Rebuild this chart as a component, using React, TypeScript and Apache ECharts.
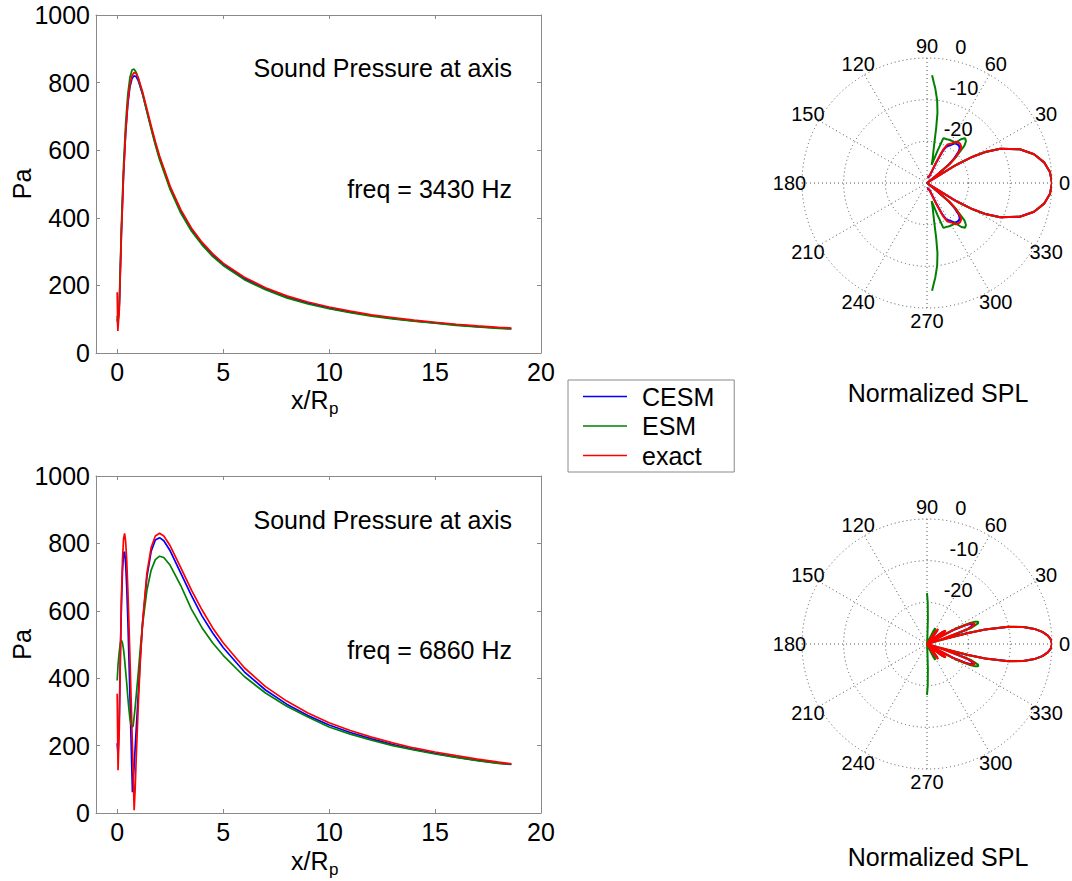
import React, { useEffect, useRef } from 'react';
import * as echarts from 'echarts';

const FONT = "'Liberation Sans', Arial, Helvetica, sans-serif";
const BLUE = '#0000ff';
const GREEN = '#008000';
const RED = '#ff0000';
const BOX = '#8a8a8a';
const GRIDC = '#555555';
const FS = 25;
const PFS = 20;

// ---------- Sound pressure at axis, freq = 3430 Hz ----------
const x3430 = [0, 0.03, 0.1, 0.2, 0.3, 0.4, 0.5, 0.6, 0.7, 0.8, 0.9, 1.0, 1.2, 1.4, 1.6, 1.8, 2.0, 2.5, 3, 3.5, 4, 4.5, 5, 6, 7, 8, 9, 10, 11, 12, 13, 14, 15, 16, 17, 18, 18.6];
const cesm3430 = [100, 90, 140, 360, 530, 650, 735, 787, 812, 820, 817, 805, 765, 716, 667, 620, 578, 489, 420, 366, 324, 290, 262, 220, 190, 166, 148, 133, 121, 111, 102, 95, 89, 83, 78, 74, 72];
const esm3430 = [110, 80, 150, 380, 555, 680, 765, 815, 837, 840, 830, 812, 766, 714, 663, 615, 572, 483, 414, 361, 320, 286, 259, 217, 187, 163, 145, 131, 119, 109, 101, 94, 88, 82, 77, 73, 71];
const exact3430 = [180, 65, 128, 351, 526, 654, 741, 794, 821, 830, 826, 813, 772, 723, 673, 626, 583, 493, 424, 370, 328, 294, 266, 224, 193, 169, 151, 136, 124, 113, 105, 97, 91, 85, 80, 76, 74];

// ---------- Sound pressure at axis, freq = 6860 Hz ----------
const x6860 = [0, 0.04, 0.1, 0.15, 0.2, 0.25, 0.3, 0.35, 0.4, 0.45, 0.5, 0.55, 0.6, 0.65, 0.7, 0.72, 0.75, 0.8, 0.85, 0.9, 1.0, 1.1, 1.2, 1.4, 1.6, 1.8, 2.0, 2.2, 2.5, 3, 3.5, 4, 4.5, 5, 6, 7, 8, 9, 10, 11, 12, 13, 14, 15, 16, 17, 18, 18.6];
const cesm6860 = [207, 170, 290, 470, 620, 720, 770, 775, 740, 670, 580, 470, 350, 230, 110, 62, 90, 140, 195, 250, 360, 470, 565, 700, 776, 810, 817, 808, 778, 712, 646, 585, 535, 491, 419, 365, 323, 289, 261, 239, 220, 203, 189, 177, 166, 156, 148, 144];
const esm6860 = [393, 440, 480, 505, 512, 505, 485, 455, 420, 385, 345, 310, 280, 262, 255, 254, 258, 285, 315, 350, 420, 495, 560, 660, 720, 752, 762, 758, 735, 675, 605, 550, 505, 468, 405, 356, 317, 285, 255, 234, 216, 200, 187, 175, 165, 155, 147, 145];
const exact6860 = [354, 127, 253, 468, 636, 751, 814, 830, 805, 749, 669, 572, 465, 354, 241, 195, 131, 8, 74, 167, 329, 462, 567, 710, 787, 822, 830, 822, 793, 728, 662, 603, 550, 505, 431, 375, 332, 297, 268, 245, 225, 208, 193, 181, 170, 160, 151, 146];

// ---------- Normalized SPL (dB), half-plane angles (mirrored about 0 deg) ----------
const ang3430 = [0, 5, 10, 15, 20, 25, 28, 30, 32, 34, 35, 36, 38, 40, 42, 45, 47, 49.5, 52, 55, 58, 62, 64, 66, 68, 70, 72, 74, 75.5, 77, 79, 80, 80.5, 81.5, 83, 85, 86, 87.3, 90];
const cesmSpl3430 = [0, -0.36, -1.47, -3.4, -6.3, -10.6, -14.3, -17.7, -22.5, -30, -30, -30, -28, -23.5, -21.3, -19.2, -18.5, -18.2, -18.2, -18.4, -19.3, -20, -21.6, -25, -27.3, -28.2, -28.4, -28.5, -28.5, -28.6, -28.6, -28.6, -28.6, -28.7, -28.7, -28.7, -28.7, -28.7, -28.7];
const esmSpl3430 = [0, -0.35, -1.45, -3.4, -6.3, -10.6, -14.0, -17.3, -21.5, -28.5, -30, -30, -27.5, -23, -20.5, -17.3, -16.3, -15.9, -16.6, -18.3, -18.2, -18.3, -18.4, -18.5, -18.5, -18.6, -22, -24.5, -25.5, -24, -21.5, -19, -16.7, -13, -10, -7.2, -6, -4.1, null];
const exactSpl3430 = [0, -0.36, -1.47, -3.39, -6.29, -10.57, -14.2, -17.5, -22.1, -30, -30, -30, -27.4, -22.9, -20.8, -18.7, -18.0, -17.7, -17.7, -17.9, -18.8, -19.5, -21, -24.5, -27, -28, -28.2, -28.3, -28.3, -28.4, -28.4, -28.4, -28.4, -28.5, -28.5, -28.5, -28.5, -28.5, -28.5];

const ang6860 = [0, 2, 4, 6, 8, 10, 12, 14, 15, 16, 17, 18, 20, 22, 23.5, 25, 26, 28, 30, 32, 34, 36, 38, 40, 42, 44, 48, 50, 52, 54, 56, 58, 60, 62, 64, 66, 70, 80, 86, 87, 88, 89, 90];
const cesmSpl6860 = [0, -0.23, -0.95, -2.2, -4.0, -6.6, -10.3, -15.5, -19.5, -24, -25, -24, -19.8, -18.1, -18.1, -18.7, -19.8, -23, -28.5, -29, -25.5, -25, -26, -28.5, -30, -30, -30, -29, -26.5, -26, -27.5, -29.5, -30, -30, -30, -30, -30, -30, -30, -30, -30, -30, -30];
const esmSpl6860 = [0, -0.22, -0.92, -2.1, -3.9, -6.4, -10, -15.3, -19.8, -27, -30, -26, -18.8, -16.8, -16.6, -17.3, -18.5, -21.8, -27.5, -29, -25, -24.5, -25.5, -28, -30, -30, -30, -29, -28, -28, -28.5, -28, -26.5, -25.7, -26.5, -29, -30, -30, -30, -28, -24, -20, -17.8];
const exactSpl6860 = [0, -0.23, -0.94, -2.16, -3.97, -6.51, -10.1, -15.6, -20, -27.3, -30, -26.8, -19.6, -17.7, -17.6, -18.3, -19.4, -22.5, -28.2, -29, -25, -24.5, -25.5, -28, -30, -30, -30, -28.5, -26, -25.5, -27, -29.5, -30, -30, -30, -30, -30, -30, -30, -30, -30, -30, -30];

// ---------- ticks / labels ----------
const X_TICKS = [0, 5, 10, 15, 20];
const ANGLE_TICKS = [0, 30, 60, 90, 120, 150, 180, 210, 240, 270, 300, 330];
const RADIAL_TICKS = [-20, -10, 0];
const SERIES_NAMES = ['CESM', 'ESM', 'exact'];
const TITLES = ['Sound Pressure at axis', 'Sound Pressure at axis'];
const FREQS = ['freq = 3430 Hz', 'freq = 6860 Hz'];

// ---------- layout ----------
const GRIDS = [
  { left: 96, top: 15, width: 445, height: 338 },
  { left: 96, top: 476, width: 445, height: 337 },
];
const POLAR_CENTERS = [
  [927, 183],
  [927, 644],
];
const R = 125;

function pairs(xs: number[], ys: number[]) {
  return xs.map((x, i) => [x, ys[i]]);
}

function mirror(angles: number[], vals: (number | null)[]) {
  const out: number[][] = [];
  for (let i = angles.length - 1; i >= 1; i--) {
    const v = vals[i];
    if (v != null) out.push([v, -angles[i]]);
  }
  for (let i = 0; i < angles.length; i++) {
    const v = vals[i];
    if (v != null) out.push([v, angles[i]]);
  }
  return out;
}

function xAxes(gridIndex: number) {
  const common = {
    type: 'value',
    gridIndex,
    min: -1,
    max: 20,
    splitLine: { show: false },
    axisLine: { show: true, onZero: false, lineStyle: { color: BOX, width: 1 } },
    axisTick: { show: true, inside: true, length: 4, customValues: X_TICKS, lineStyle: { color: BOX } },
  };
  return [
    {
      ...common,
      position: 'bottom',
      axisLabel: { show: true, customValues: X_TICKS, margin: 6, fontSize: FS, color: '#000', fontFamily: FONT },
    },
    { ...common, position: 'top', axisLabel: { show: false } },
  ];
}

function yAxes(gridIndex: number) {
  const common = {
    type: 'value',
    gridIndex,
    min: 0,
    max: 1000,
    interval: 200,
    splitLine: { show: false },
    axisLine: { show: true, onZero: false, lineStyle: { color: BOX, width: 1 } },
    axisTick: { show: true, inside: true, length: 4, lineStyle: { color: BOX } },
  };
  return [
    {
      ...common,
      position: 'left',
      axisLabel: {
        show: true,
        margin: 6,
        fontSize: FS,
        color: '#000',
        fontFamily: FONT,
        formatter: (v: number) => String(v),
      },
    },
    { ...common, position: 'right', axisLabel: { show: false } },
  ];
}

function lineSeries(name: string, color: string, data: number[][], xi: number, yi: number) {
  return {
    type: 'line',
    name,
    xAxisIndex: xi,
    yAxisIndex: yi,
    data,
    symbol: 'none',
    smooth: false,
    lineStyle: { color, width: 1.7 },
    itemStyle: { color },
  };
}

function polarSeries(name: string, color: string, data: number[][], pi: number) {
  return {
    type: 'line',
    name,
    coordinateSystem: 'polar',
    polarIndex: pi,
    data,
    symbol: 'none',
    smooth: false,
    clip: false,
    lineStyle: { color, width: 2 },
    itemStyle: { color },
  };
}

function textEl(text: string, x: number, y: number, opts: any = {}) {
  return {
    type: 'text',
    x,
    y,
    rotation: opts.rotation || 0,
    silent: true,
    style: {
      text,
      fontSize: opts.fontSize || FS,
      fontFamily: FONT,
      fill: '#000',
      align: opts.align || 'center',
      verticalAlign: opts.verticalAlign || 'middle',
    },
  };
}

function polarLabels(cx: number, cy: number) {
  const els: any[] = [];
  ANGLE_TICKS.forEach((a) => {
    const rad = (a * Math.PI) / 180;
    els.push(textEl(String(a), cx + 1.1 * R * Math.cos(rad), cy - 1.1 * R * Math.sin(rad), { fontSize: PFS }));
  });
  const c82 = Math.cos((82 * Math.PI) / 180);
  const s82 = Math.sin((82 * Math.PI) / 180);
  RADIAL_TICKS.forEach((v) => {
    const r = ((v + 30) / 30) * R + R / 50;
    els.push(textEl(String(v), cx + r * c82 + 10.5, cy - r * s82, { fontSize: PFS, align: 'left', verticalAlign: 'bottom' }));
  });
  return els;
}

function buildOption() {
  const graphic: any[] = [];
  [0, 1].forEach((i) => {
    const g = GRIDS[i];
    const dy = i === 0 ? 0 : 461;
    graphic.push(textEl(TITLES[i], 512, i === 0 ? 68 : 520, { align: 'right' }));
    graphic.push(textEl(FREQS[i], 512, i === 0 ? 189 : 650, { align: 'right' }));
    graphic.push(textEl('Pa', 22, g.top + g.height / 2, { rotation: Math.PI / 2 }));
    graphic.push(textEl('x/R', 291, 400 + dy, { align: 'left' }));
    graphic.push(textEl('p', 329, 408 + dy, { align: 'left', fontSize: 17 }));
    const [cx, cy] = POLAR_CENTERS[i];
    graphic.push(...polarLabels(cx, cy));
    graphic.push(textEl('Normalized SPL', 938, i === 0 ? 393 : 857));
  });

  const dotted = { color: GRIDC, width: 1, type: [1, 3] };

  return {
    animation: false,
    backgroundColor: '#ffffff',
    textStyle: { fontFamily: FONT },
    grid: GRIDS.map((g) => ({ ...g, containLabel: false })),
    xAxis: [...xAxes(0), ...xAxes(1)],
    yAxis: [...yAxes(0), ...yAxes(1)],
    polar: POLAR_CENTERS.map((c) => ({ center: c, radius: R })),
    angleAxis: [0, 1].map((i) => ({
      polarIndex: i,
      type: 'value',
      min: 0,
      max: 360,
      interval: 30,
      startAngle: 0,
      clockwise: false,
      axisLine: { show: false },
      axisTick: { show: false },
      axisLabel: { show: false },
      splitLine: { show: true, lineStyle: dotted },
    })),
    radiusAxis: [0, 1].map((i) => ({
      polarIndex: i,
      type: 'value',
      min: -30,
      max: 0,
      interval: 10,
      axisLine: { show: false },
      axisTick: { show: false },
      axisLabel: { show: false },
      splitLine: { show: true, lineStyle: dotted },
    })),
    legend: {
      data: SERIES_NAMES,
      orient: 'vertical',
      left: 568,
      top: 380,
      icon: 'rect',
      itemWidth: 44,
      itemHeight: 1.5,
      itemGap: 4.5,
      padding: [4, 20, 4, 15],
      borderColor: BOX,
      borderWidth: 1,
      backgroundColor: '#fff',
      selectedMode: false,
      textStyle: { fontSize: FS, fontFamily: FONT, color: '#000', padding: [0, 0, 0, 10] },
    },
    series: [
      lineSeries('CESM', BLUE, pairs(x3430, cesm3430), 0, 0),
      lineSeries('ESM', GREEN, pairs(x3430, esm3430), 0, 0),
      lineSeries('exact', RED, pairs(x3430, exact3430), 0, 0),
      lineSeries('CESM', BLUE, pairs(x6860, cesm6860), 2, 2),
      lineSeries('ESM', GREEN, pairs(x6860, esm6860), 2, 2),
      lineSeries('exact', RED, pairs(x6860, exact6860), 2, 2),
      polarSeries('CESM', BLUE, mirror(ang3430, cesmSpl3430), 0),
      polarSeries('ESM', GREEN, mirror(ang3430, esmSpl3430), 0),
      polarSeries('exact', RED, mirror(ang3430, exactSpl3430), 0),
      polarSeries('CESM', BLUE, mirror(ang6860, cesmSpl6860), 1),
      polarSeries('ESM', GREEN, mirror(ang6860, esmSpl6860), 1),
      polarSeries('exact', RED, mirror(ang6860, exactSpl6860), 1),
    ],
    graphic,
  };
}

export default function App() {
  const ref = useRef<HTMLDivElement>(null);
  useEffect(() => {
    if (!ref.current) return;
    const chart = echarts.init(ref.current, null, { renderer: 'svg' });
    chart.setOption(buildOption() as any);
    return () => chart.dispose();
  }, []);
  return (
    <div
      ref={ref}
      style={{ position: 'absolute', left: 0, top: 0, width: 1072, height: 881, background: '#fff' }}
    />
  );
}
